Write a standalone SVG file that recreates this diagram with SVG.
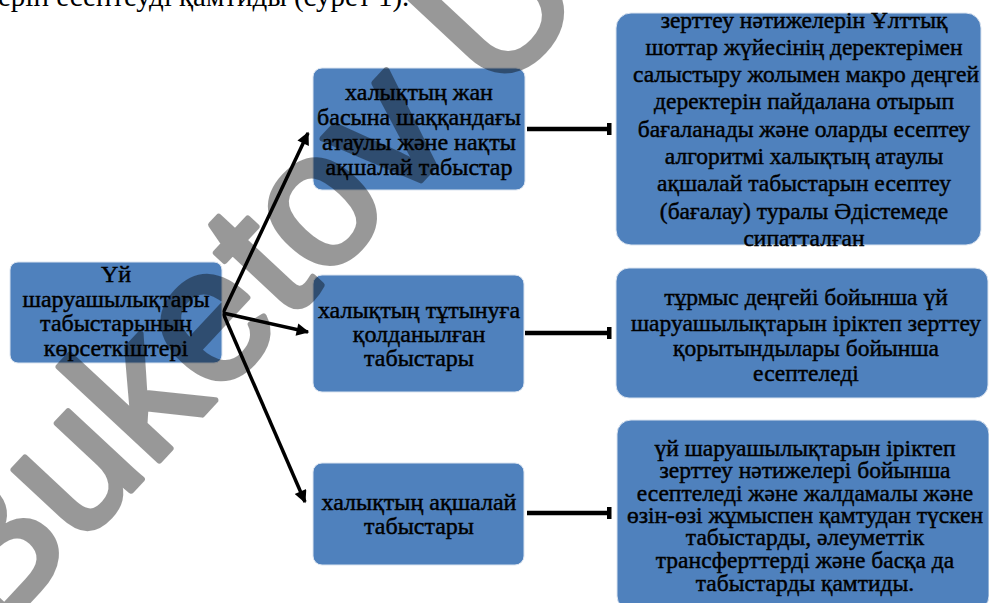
<svg xmlns="http://www.w3.org/2000/svg" width="989" height="603" viewBox="0 0 989 603">
<defs>
<style>
.box{fill:#4f81bd;stroke:#dbe4f0;stroke-width:1}
.t{font-family:"Liberation Serif","Times New Roman","DejaVu Serif",serif;font-size:24px;fill:#000;stroke:#000;stroke-width:0.45;text-anchor:middle}
.tr{font-size:23.5px}
.top{font-family:"Liberation Serif","Times New Roman","DejaVu Serif",serif;font-size:29px;fill:#000}
.arr{stroke:#000;stroke-width:3.5;fill:none;marker-end:url(#ah)}
.ln{stroke:#000;stroke-width:4.5;fill:none}
.wm{font-family:"Liberation Sans",Arial,sans-serif;font-size:190px;fill:#000;stroke:#000;stroke-width:6;stroke-linejoin:round}
</style>
<marker id="ah" viewBox="0 0 10 10" refX="9" refY="5" markerWidth="4" markerHeight="3.6" orient="auto" markerUnits="strokeWidth">
<path d="M0,0 L10,5 L0,10 z" fill="#000"/>
</marker>
</defs>
<rect width="989" height="603" fill="#fff"/>
<text class="top" x="-2" y="6">ерін есептеуді қамтиды (сурет 1).</text>

<g id="connectors">
<path class="arr" d="M223,313 L308,133"/>
<path class="arr" d="M223,313 L308,332"/>
<path class="arr" d="M223,313 L305,502"/>
<path class="ln" d="M527,129 H609"/>
<rect x="607" y="123" width="4.5" height="12" fill="#000"/>
<path class="ln" d="M525,333 H609"/>
<rect x="607" y="327" width="4.5" height="12" fill="#000"/>
<path class="ln" d="M527,513 H609"/>
<rect x="607" y="507" width="4.5" height="12" fill="#000"/>
</g>

<g id="n-root">
<rect class="box" x="10" y="262" width="212" height="101" rx="8"/>
<text class="t" x="116" y="282">Үй</text>
<text class="t" x="116" y="307">шаруашылықтары</text>
<text class="t" x="116" y="331">табыстарының</text>
<text class="t" x="116" y="356">көрсеткіштері</text>
</g>

<g id="n-nominal">
<rect class="box" x="313" y="68" width="212" height="122" rx="9"/>
<text class="t" x="419" y="100">халықтың жан</text>
<text class="t" x="419" y="125">басына шаққандағы</text>
<text class="t" x="419" y="150">атаулы және нақты</text>
<text class="t" x="419" y="175">ақшалай табыстар</text>
</g>

<g id="n-consumption">
<rect class="box" x="313" y="275" width="211" height="117" rx="9"/>
<text class="t" x="419" y="318">халықтың тұтынуға</text>
<text class="t" x="419" y="342">қолданылған</text>
<text class="t" x="419" y="366">табыстары</text>
</g>

<g id="n-cash">
<rect class="box" x="313" y="463" width="211" height="102" rx="9"/>
<text class="t" x="419" y="510">халықтың ақшалай</text>
<text class="t" x="419" y="534">табыстары</text>
</g>

<g id="d-nominal">
<rect class="box" x="616" y="13" width="365" height="232" rx="15"/>
<text class="t tr" x="804" y="28">зерттеу нәтижелерін Ұлттық</text>
<text class="t tr" x="804" y="55">шоттар жүйесінің деректерімен</text>
<text class="t tr" x="806" y="82">салыстыру жолымен макро деңгей</text>
<text class="t tr" x="804" y="109">деректерін пайдалана отырып</text>
<text class="t tr" x="804" y="137">бағаланады және оларды есептеу</text>
<text class="t tr" x="804" y="164">алгоритмі халықтың атаулы</text>
<text class="t tr" x="804" y="191">ақшалай табыстарын есептеу</text>
<text class="t tr" x="804" y="219">(бағалау) туралы Әдістемеде</text>
<text class="t tr" x="804" y="246">сипатталған</text>
</g>

<g id="d-consumption">
<rect class="box" x="616" y="268" width="372" height="130" rx="13"/>
<text class="t tr" x="806" y="305">тұрмыс деңгейі бойынша үй</text>
<text class="t tr" x="806" y="331">шаруашылықтарын іріктеп зерттеу</text>
<text class="t tr" x="806" y="356">қорытындылары бойынша</text>
<text class="t tr" x="806" y="381">есептеледі</text>
</g>

<g id="d-cash">
<rect class="box" x="617" y="420" width="372" height="190" rx="14"/>
<text class="t tr" x="805" y="456">үй шаруашылықтарын іріктеп</text>
<text class="t tr" x="805" y="478">зерттеу нәтижелері бойынша</text>
<text class="t tr" x="805" y="501">есептеледі  және жалдамалы және</text>
<text class="t tr" x="805" y="523">өзін-өзі жұмыспен қамтудан түскен</text>
<text class="t tr" x="805" y="545">табыстарды, әлеуметтік</text>
<text class="t tr" x="805" y="568">трансферттерді және басқа да</text>
<text class="t tr" x="805" y="591">табыстарды қамтиды.</text>
</g>

<g id="watermark" opacity="0.4">
<text class="wm" transform="translate(-8,640) rotate(-47)">Buketov U</text>
</g>
</svg>
